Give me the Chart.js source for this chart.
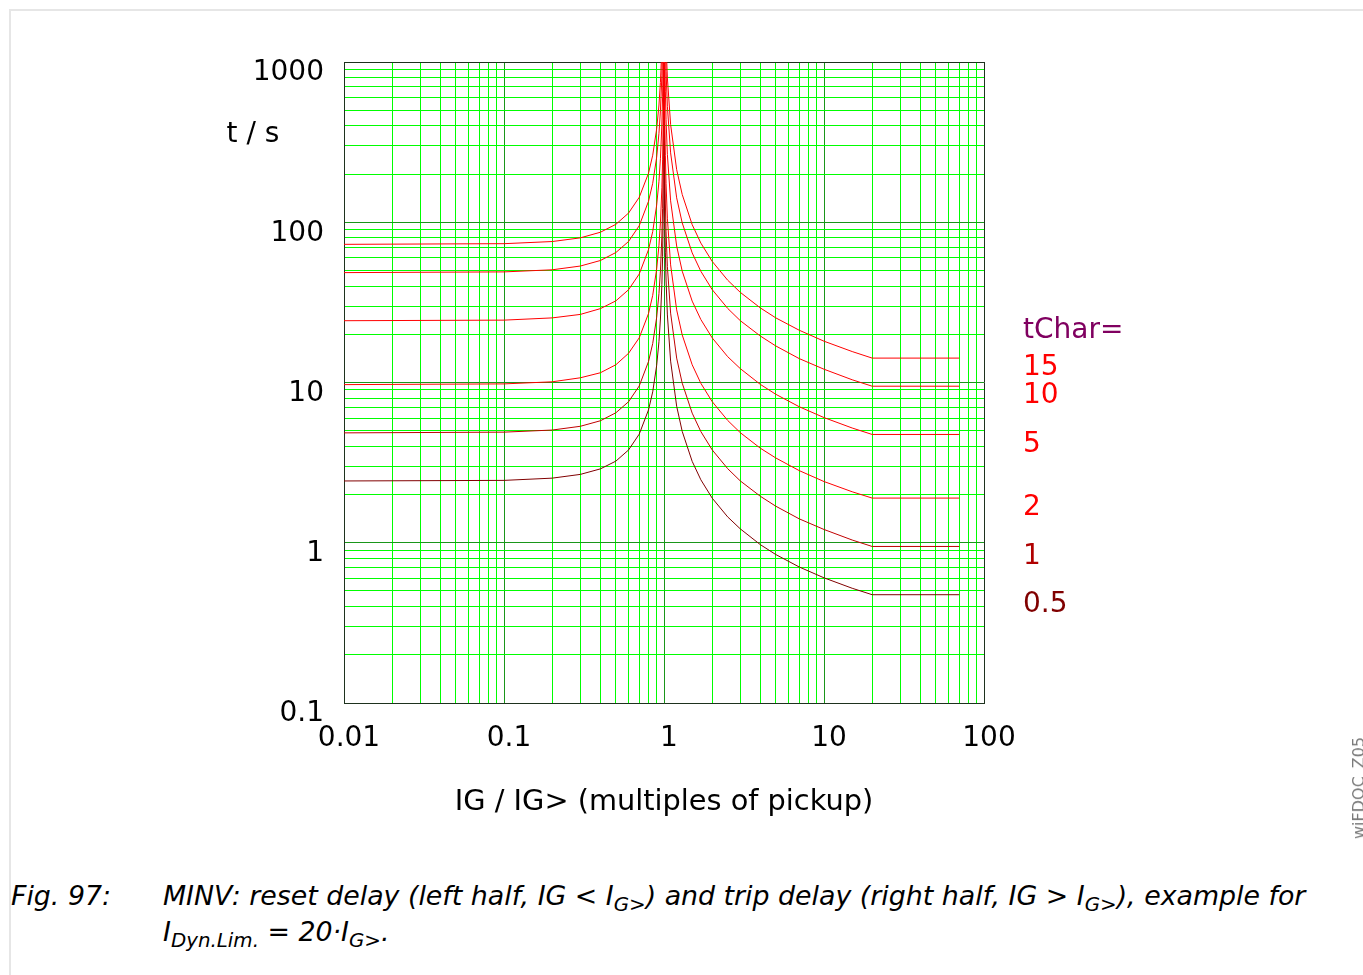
<!DOCTYPE html>
<html>
<head>
<meta charset="utf-8">
<script src="https://cdn.jsdelivr.net/npm/chart.js@4/dist/chart.umd.min.js"></script>
<style>
  html, body { margin: 0; padding: 0; background: #fff; }
  body { width: 1363px; height: 975px; position: relative; overflow: hidden; }
  #frame { position: absolute; left: 9px; top: 9px; width: 1400px; height: 1000px;
           border-left: 2px solid #e6e6e6; border-top: 2px solid #e6e6e6; }
  #chart { position: absolute; left: 0; top: 0; }
  .cap { position: absolute; font: italic 26.8px "DejaVu Sans"; line-height: 37px; color: #000; white-space: nowrap; }
  .cap sub { font-size: 0.74em; vertical-align: -0.28em; line-height: 0; }
  #mark { position: absolute; left: 1351px; top: 737px; font: 16px "DejaVu Sans"; line-height: 16px;
          color: #7a7a7a; writing-mode: vertical-rl; transform: rotate(180deg); white-space: nowrap; }
</style>
</head>
<body>
<div id="frame"></div>
<canvas id="chart" width="1363" height="860"></canvas>
<div class="cap" style="left:11px; top:877px;">Fig. 97:</div>
<div class="cap" style="left:163px; top:877px;">MINV: reset delay (left half, IG &lt; I<sub>G&gt;</sub>) and trip delay (right half, IG &gt; I<sub>G&gt;</sub>), example for</div>
<div class="cap" style="left:163px; top:913px;">I<sub>Dyn.Lim.</sub> = 20·I<sub>G&gt;</sub>.</div>
<div id="mark">wiFDOC_Z05</div>
<script>
// current multiples (x) for the reset part (left) and trip part (right)
const resetX = [0.01, 0.1, 0.2, 0.3, 0.4, 0.5, 0.6, 0.7, 0.8, 0.85, 0.9, 0.93, 0.95, 0.97, 0.98, 0.99, 0.995, 0.999]
const tripX = [1.001, 1.005, 1.01, 1.02, 1.03, 1.05, 1.1, 1.2, 1.3, 1.5, 1.7, 2, 2.5, 3, 4, 5, 7, 10, 15, 20, 70]

// times in s, one pair of lists per tChar
const tChars = ['15', '10', '5', '2', '1', '0.5']
const reset15 = [72.8, 73.5, 75.8, 79.9, 86.6, 97.0, 114, 143, 202, 262, 383, 539, 746, 1231, 1837, 3656, 7293, 36390]
const trip15 = [38640, 7746, 3884, 1953, 1308, 794, 407, 213, 149, 96.6, 74.1, 57.0, 43.5, 36.5, 29.2, 25.3, 21.2, 18.1, 15.6, 14.2, 14.2]
const reset10 = [48.5, 49.0, 50.5, 53.3, 57.7, 64.7, 75.8, 95.1, 135, 175, 255, 359, 497, 821, 1225, 2437, 4862, 24260]
const trip10 = [25760, 5164, 2589, 1302, 872, 529, 271, 142, 99.0, 64.4, 49.4, 38.0, 29.0, 24.3, 19.5, 16.9, 14.1, 12.1, 10.4, 9.48, 9.48]
const reset5 = [24.3, 24.5, 25.3, 26.6, 28.9, 32.3, 37.9, 47.5, 67.4, 87.4, 128, 180, 249, 410, 612, 1219, 2431, 12130]
const trip5 = [12880, 2582, 1295, 651, 436, 264, 136, 71.1, 49.5, 32.2, 24.7, 19.0, 14.5, 12.2, 9.73, 8.44, 7.06, 6.04, 5.20, 4.74, 4.74]
const reset2 = [9.70, 9.80, 10.1, 10.7, 11.5, 12.9, 15.2, 19.0, 26.9, 35.0, 51.1, 71.8, 99.5, 164, 245, 487, 972, 4852]
const trip2 = [5152, 1033, 518, 260, 174, 106, 54.2, 28.4, 19.8, 12.9, 9.88, 7.60, 5.80, 4.86, 3.89, 3.38, 2.82, 2.41, 2.08, 1.90, 1.90]
const reset1 = [4.85, 4.90, 5.05, 5.33, 5.77, 6.47, 7.58, 9.51, 13.5, 17.5, 25.5, 35.9, 49.7, 82.1, 122, 244, 486, 2426]
const trip1 = [2576, 516, 259, 130, 87.2, 52.9, 27.1, 14.2, 9.90, 6.44, 4.94, 3.80, 2.90, 2.43, 1.95, 1.69, 1.41, 1.21, 1.04, 0.948, 0.948]
const reset05 = [2.43, 2.45, 2.53, 2.67, 2.89, 3.23, 3.79, 4.76, 6.74, 8.74, 12.8, 18.0, 24.9, 41.0, 61.2, 122, 243, 1213]
const trip05 = [1288, 258, 129, 65.1, 43.6, 26.4, 13.6, 7.11, 4.95, 3.22, 2.47, 1.90, 1.45, 1.22, 0.973, 0.844, 0.706, 0.604, 0.520, 0.474, 0.474]

const resets = [reset15, reset10, reset5, reset2, reset1, reset05]
const trips = [trip15, trip10, trip5, trip2, trip1, trip05]
const lineColors = ['#ff0000', '#ff0000', '#ff0000', '#ff0000', '#c00000', '#800000']
const labelColors = ['#ff0000', '#ff0000', '#ff0000', '#ff0000', '#b00000', '#800000']

// axis ticks
const xDecades = [0.01, 0.1, 1, 10, 100]
const xTickLabels = ['0.01', '0.1', '1', '10', '100']
const yDecades = [0.1, 1, 10, 100, 1000]
const yTickLabels = ['0.1', '1', '10', '100', '1000']
const minorSteps = [1, 2, 3, 4, 5, 6, 7, 8, 9]

const FONT = 'DejaVu Sans'
const gridGreen = '#00ff00'
const majorGreen = '#1a961a'
const edgeColor = '#1e321e'

function gridTicks(decades) {
    const out = []
    decades.forEach(function (d, i) {
        if (i === decades.length - 1) {
            out.push({ value: d, major: true })
            return
        }
        minorSteps.forEach(function (m) {
            out.push({ value: d * m, major: m === 1 })
        })
    })
    return out
}

function gridColor(ctx) {
    const n = ctx.scale.ticks.length
    if (ctx.index === 0 || ctx.index === n - 1) return edgeColor
    return ctx.tick && ctx.tick.major ? majorGreen : gridGreen
}

const datasets = tChars.map(function (t, i) {
    const pts = resetX.map((x, k) => ({ x: x, y: resets[i][k] }))
        .concat(tripX.map((x, k) => ({ x: x, y: trips[i][k] })))
    return {
        label: 'tChar=' + t,
        data: pts,
        borderColor: lineColors[i],
        borderWidth: 1,
        pointRadius: 0,
        tension: 0,
        fill: false
    }
})

const sideLabels = {
    id: 'sideLabels',
    afterDraw(chart) {
        const c = chart.ctx
        const area = chart.chartArea
        const y = chart.scales.y
        c.save()
        c.font = '28px "' + FONT + '"'
        c.textBaseline = 'middle'
        c.textAlign = 'left'
        const tx = area.right + 39
        let firstY = 0
        tChars.forEach(function (t, i) {
            const last = trips[i][trips[i].length - 1]
            const py = y.getPixelForValue(last) + 10
            if (i === 0) firstY = py
            c.fillStyle = labelColors[i]
            c.fillText(t, tx, py)
        })
        c.fillStyle = '#800060'
        c.fillText('tChar=', tx, firstY - 37)
        // y axis title, written horizontally
        c.fillStyle = '#000'
        c.textAlign = 'center'
        c.fillText('t / s', area.left - 91, area.top + 73)
        c.restore()
    }
}

new Chart(document.getElementById('chart'), {
    type: 'line',
    data: { datasets: datasets },
    options: {
        responsive: false,
        animation: false,
        layout: { padding: { left: 0, top: 62, right: 379, bottom: 0 } },
        plugins: {
            legend: { display: false },
            tooltip: { enabled: false }
        },
        scales: {
            x: {
                type: 'logarithmic',
                min: 0.01,
                max: 100,
                afterBuildTicks: function (scale) { scale.ticks = gridTicks(xDecades) },
                afterFit: function (scale) { scale.height = 157 },
                grid: { color: gridColor, lineWidth: 1, drawTicks: false },
                border: { display: true, color: edgeColor, width: 1 },
                ticks: {
                    autoSkip: false,
                    maxRotation: 0,
                    padding: 19,
                    labelOffset: 5,
                    color: '#000',
                    font: { family: FONT, size: 28 },
                    callback: function (v) {
                        const k = xDecades.indexOf(v)
                        return k >= 0 ? xTickLabels[k] : ''
                    }
                },
                title: {
                    display: true,
                    text: 'IG / IG> (multiples of pickup)',
                    color: '#000',
                    font: { family: FONT, size: 28.8 },
                    padding: { top: 0, bottom: 40 }
                }
            },
            y: {
                type: 'logarithmic',
                min: 0.1,
                max: 1000,
                afterBuildTicks: function (scale) { scale.ticks = gridTicks(yDecades) },
                afterFit: function (scale) { scale.width = 344 },
                grid: { color: gridColor, lineWidth: 1, drawTicks: false },
                border: { display: true, color: edgeColor, width: 1 },
                ticks: {
                    autoSkip: false,
                    padding: 20,
                    labelOffset: 11,
                    color: '#000',
                    font: { family: FONT, size: 28 },
                    callback: function (v) {
                        const k = yDecades.indexOf(v)
                        return k >= 0 ? yTickLabels[k] : ''
                    }
                }
            }
        }
    },
    plugins: [sideLabels]
})
</script>
</body>
</html>
